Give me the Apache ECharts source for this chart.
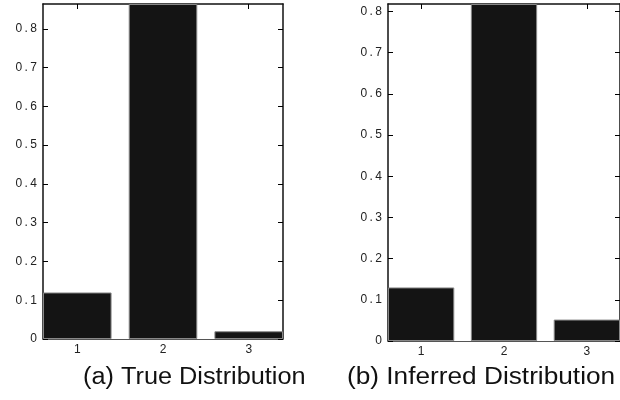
<!DOCTYPE html>
<html>
<head>
<meta charset="utf-8">
<script src="https://cdn.jsdelivr.net/npm/echarts@6/dist/echarts.min.js"></script>
<style>
  html, body { margin: 0; padding: 0; background: #fff; }
  #chart { width: 620px; height: 400px; }
</style>
</head>
<body>
<div id="chart"></div>
<script>
// ---- data ----
const categories = [1, 2, 3];
const trueValues = [0.12, 0.864, 0.02];
const inferredValues = [0.13, 0.818, 0.052];
const yTicks = [0, 0.1, 0.2, 0.3, 0.4, 0.5, 0.6, 0.7, 0.8];
const yMaxTrue = 0.864;
const yMaxInferred = 0.818;
const xMin = 0.6;
const xMax = 3.4;
const captions = ['(a) True Distribution', '(b) Inferred Distribution'];

// ---- chart ----
const chart = echarts.init(document.getElementById('chart'), null, { renderer: 'canvas' });
const FONT = "'Liberation Sans', Arial, Helvetica, sans-serif";

const grids = [
  { left: 43, top: 4, width: 240, height: 335 },
  { left: 388, top: 4, width: 240, height: 337 }
];
const panels = [
  { values: trueValues, yMax: yMaxTrue },
  { values: inferredValues, yMax: yMaxInferred }
];

const yLabelFmt = v => (v === 0 ? '0' : v.toFixed(1).split('').join('\u2009'));

const xAxes = [], yAxes = [], series = [];
panels.forEach((p, i) => {
  const baseX = {
    gridIndex: i, type: 'value', min: xMin, max: xMax,
    splitLine: { show: false },
    axisTick: { show: true, inside: true, length: 5, customValues: categories, lineStyle: { color: '#000', width: 1 } }
  };
  xAxes.push(Object.assign({}, baseX, {
    position: 'bottom',
    axisLine: { show: true, onZero: false, lineStyle: { color: '#555', width: 1 } },
    axisLabel: { show: true, customValues: categories, fontSize: 12, color: '#222', margin: 5, fontFamily: FONT }
  }));
  xAxes.push(Object.assign({}, baseX, {
    position: 'top',
    axisLine: { show: true, onZero: false, lineStyle: { color: '#111', width: 1.5 } },
    axisLabel: { show: false }
  }));
  const baseY = {
    gridIndex: i, type: 'value', min: 0, max: p.yMax,
    splitLine: { show: false },
    axisTick: { show: true, inside: true, length: 5, customValues: yTicks, lineStyle: { color: '#000', width: 1 } }
  };
  yAxes.push(Object.assign({}, baseY, {
    position: 'left',
    axisLine: { show: true, onZero: false, lineStyle: { color: '#111', width: 1.5 } },
    axisLabel: { show: true, customValues: yTicks, formatter: yLabelFmt, fontSize: 12, color: '#222', margin: 6, fontFamily: FONT }
  }));
  yAxes.push(Object.assign({}, baseY, {
    position: 'right',
    axisLine: { show: true, onZero: false, lineStyle: { color: '#111', width: 1.5 } },
    axisLabel: { show: false }
  }));
  series.push({
    type: 'bar',
    xAxisIndex: i * 2,
    yAxisIndex: i * 2,
    barWidth: '80%',
    itemStyle: { color: '#141414', borderColor: '#888', borderWidth: 1 },
    data: categories.map((c, j) => [c, p.values[j]]),
    silent: true,
    animation: false
  });
});

chart.setOption({
  animation: false,
  backgroundColor: '#fff',
  grid: grids.map(g => Object.assign({ containLabel: false, show: false }, g)),
  xAxis: xAxes,
  yAxis: yAxes,
  series: series,
  graphic: [
    { type: 'text', x: 83, y: 389, scaleX: 1.1, style: { text: captions[0], font: "23px " + FONT, fill: '#111', textAlign: 'left', textVerticalAlign: 'bottom' } },
    { type: 'text', x: 347, y: 389, scaleX: 1.14, style: { text: captions[1], font: "23px " + FONT, fill: '#111', textAlign: 'left', textVerticalAlign: 'bottom' } }
  ]
});
</script>
</body>
</html>
